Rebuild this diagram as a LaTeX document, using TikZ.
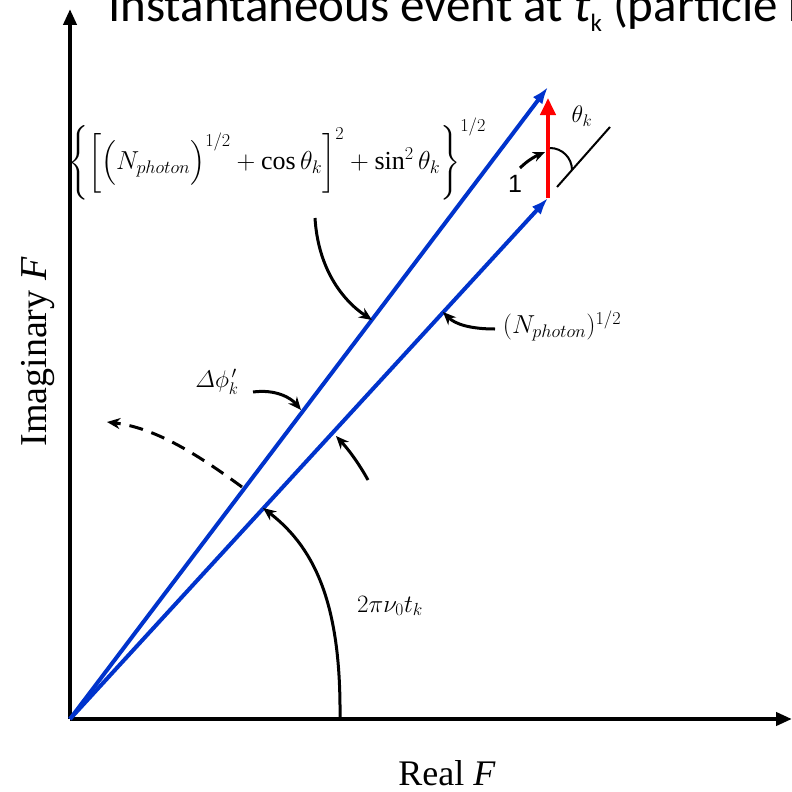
\RequirePackage{fix-cm}
\documentclass[tikz,border=0pt]{standalone}
\usepackage{amsmath}
\usepackage{fontspec}
\setmainfont{Liberation Serif}
\newfontfamily\titlefont{Carlito}
\newfontfamily\onefont{Liberation Sans}
\usetikzlibrary{arrows.meta}
\definecolor{phasorblue}{RGB}{0,51,204}
\definecolor{recoilred}{RGB}{255,0,0}
\tikzset{
    axis/.style={line width=4pt,-{Triangle[length=16pt,width=13pt]}},
    phasor/.style={phasorblue,line width=4pt,-{Latex[length=17pt,width=12pt]}},
    kick/.style={recoilred,line width=4pt,-{Triangle[length=17pt,width=15pt]}},
    pointer/.style={line width=3pt,-{Stealth[length=13pt,width=11pt]}},
    mathlabel/.style={font=\fontsize{#1}{#1}\selectfont},
}
\begin{document}
\begin{tikzpicture}[x=1pt,y=-1pt]
    \useasboundingbox (0,0) rectangle (792,792);
    \clip (0,0) rectangle (792,792);
    % Axes
        \coordinate (O) at (70,719);
        \coordinate (xend) at (792,719);
        \coordinate (yend) at (70,9);
        \draw[axis] (O) -- (xend);
        \draw[axis] (O) -- (yend);
    % Phasors
        \coordinate (inner) at (548,198);
        \coordinate (outer) at (548,87);
        \coordinate (kicktip) at (548,98);
        \draw[phasor] (O) -- (inner);
        \draw[phasor] (O) -- (outer);
        \draw[kick] (inner) -- (kicktip);
    % Angle theta
        \coordinate (extA) at (557,187);
        \coordinate (extB) at (610,127);
        \draw[line width=2pt] (extA) -- (extB);
        \draw[line width=2pt] (550,148) arc[start angle=-90,end angle=0,radius=22];
    % Pointers
        \draw[pointer] (315,218) .. controls (318,268) and (342,300) .. (372,320);
        \draw[pointer] (495,329) .. controls (470,329) and (455,324) .. (443,312);
        \draw[pointer] (253,392) .. controls (276,389) and (291,398) .. (301,410);
        \draw[pointer] (368,480) .. controls (358,462) and (348,449) .. (336,436);
        \draw[pointer] (340,718) .. controls (341,610) and (318,550) .. (263,508);
        \draw[pointer,-{Stealth[length=12pt,width=10pt]}] (520,168) .. controls (528,160) and (536,156) .. (545,152);
        \draw[pointer,dashed,dash pattern=on 14pt off 9pt] (242,487) .. controls (201,457) and (157,428) .. (107,422);
    % Labels
        \node[anchor=base west,font=\titlefont\fontsize{49}{58}\selectfont,inner sep=0pt] (title) at (108,22)
            {Instantaneous event at \textit{t}\raisebox{-10pt}{\fontsize{25}{25}\selectfont k} (particle r};
        \node[mathlabel=26] (modulus) at (277,160)
            {$\Biggl\{\biggl[\Bigl(N_{photon}\Bigr)^{1/2}+\cos\theta_k\biggr]^2+\sin^2\theta_k\Biggr\}^{1/2}$};
        \node[mathlabel=26] (amplitude) at (562,326) {$(N_{photon})^{1/2}$};
        \node[mathlabel=24] (phaselabel) at (217,382) {$\varDelta\phi_k^{\,\prime}$};
        \node[mathlabel=25] (rotation) at (390,606) {$2\pi\nu_0t_k$};
        \node[mathlabel=24] (thetalabel) at (582,116) {$\theta_k$};
        \node[font=\onefont\fontsize{25}{25}\selectfont] (unit) at (515,184) {1};
        \node[anchor=base,font=\fontsize{36}{36}\selectfont,inner sep=0pt] (realF) at (447,785) {Real \textit{F}};
        \node[anchor=base,rotate=90,font=\fontsize{38}{38}\selectfont,inner sep=0pt] (imagF) at (46,352) {Imaginary \textit{F}};
\end{tikzpicture}
\end{document}
